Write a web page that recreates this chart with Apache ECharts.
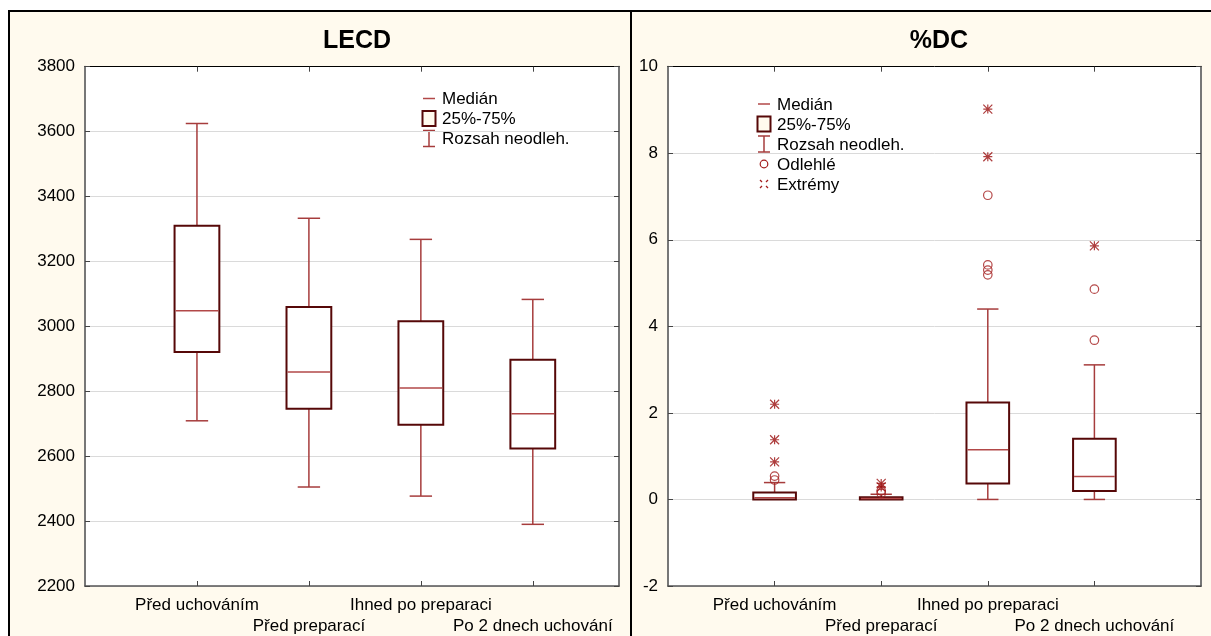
<!DOCTYPE html>
<html><head><meta charset="utf-8">
<script src="https://cdn.jsdelivr.net/npm/echarts@6/dist/echarts.min.js"></script>
<style>html,body{margin:0;padding:0;background:#fff}#c{width:1211px;height:636px}</style>
</head><body><div id="c"></div>
<script>
// ---- data ----
const categories = ['Před uchováním', 'Před preparací', 'Ihned po preparaci', 'Po 2 dnech uchování'];
const catPositions = [1, 2, 3, 4];
const rowOnePositions = [1, 3];
const rowTwoPositions = [2, 4];

const lecdMin    = [2709, 2505, 2477, 2390];
const lecdQ1     = [2921, 2746, 2697, 2624];
const lecdMedian = [3048, 2859, 2810, 2731];
const lecdQ3     = [3310, 3060, 3016, 2897];
const lecdMax    = [3625, 3333, 3268, 3083];

const dcMin    = [0, 0, 0, 0];
const dcQ1     = [0, 0, 0.37, 0.195];
const dcMedian = [0.04, 0.02, 1.15, 0.53];
const dcQ3     = [0.16, 0.05, 2.24, 1.40];
const dcMax    = [0.39, 0.12, 4.40, 3.11];
const dcOutliers = [[1, 0.45], [1, 0.54], [2, 0.14], [2, 0.20], [3, 5.19], [3, 5.30], [3, 5.42], [3, 7.03], [4, 3.68], [4, 4.86]];
const dcExtremes = [[1, 0.87], [1, 1.38], [1, 2.20], [2, 0.29], [2, 0.37], [3, 7.92], [3, 9.02], [4, 5.86]];

const lecdTicks = [2200, 3800, 200];
const dcTicks = [-2, 10, 2];

// ---- styles ----
const FONT = 'Liberation Sans, Arial, sans-serif';
const BOX_C = '#560808';
const WHISK_C = '#A63C3C';
const MED_C = '#B24848';
const OUT_C = '#A31C1C';
const BG = '#FFFAEE';

function boxRows(mn, q1, md, q3, mx) {
  return catPositions.map((x, i) => [x, mn[i], q1[i], md[i], q3[i], mx[i]]);
}

function renderBox(params, api) {
  const x = api.value(0);
  const mn = api.value(1), q1 = api.value(2), md = api.value(3), q3 = api.value(4), mx = api.value(5);
  const bw = api.size([0.4, 0])[0];
  const cw = api.size([0.2, 0])[0];
  const pMin = api.coord([x, mn]), pQ1 = api.coord([x, q1]), pMd = api.coord([x, md]);
  const pQ3 = api.coord([x, q3]), pMax = api.coord([x, mx]);
  const cx = pMin[0];
  const ls = { stroke: WHISK_C, lineWidth: 1.5 };
  const children = [];
  children.push({ type: 'line', shape: { x1: cx, y1: pQ3[1], x2: cx, y2: pMax[1] }, style: ls });
  children.push({ type: 'line', shape: { x1: cx - cw / 2, y1: pMax[1], x2: cx + cw / 2, y2: pMax[1] }, style: ls });
  if (mn < q1) {
    children.push({ type: 'line', shape: { x1: cx, y1: pQ1[1], x2: cx, y2: pMin[1] }, style: ls });
    children.push({ type: 'line', shape: { x1: cx - cw / 2, y1: pMin[1], x2: cx + cw / 2, y2: pMin[1] }, style: ls });
  }
  children.push({ type: 'rect', shape: { x: cx - bw / 2, y: pQ3[1], width: bw, height: pQ1[1] - pQ3[1] },
    style: { fill: '#fff', stroke: BOX_C, lineWidth: 2 } });
  children.push({ type: 'line', shape: { x1: cx - bw / 2 + 1, y1: pMd[1], x2: cx + bw / 2 - 1, y2: pMd[1] },
    style: { stroke: MED_C, lineWidth: 1.5 } });
  return { type: 'group', children };
}

function xLabel(v) {
  const i = Math.round(v) - 1;
  return (i >= 0 && i < categories.length) ? categories[i] : '';
}

function xAxes(gi, max) {
  const base = { gridIndex: gi, type: 'value', min: 0, max: max, splitLine: { show: false } };
  return [
    Object.assign({}, base, { position: 'bottom',
      axisLine: { onZero: false, lineStyle: { color: '#555', width: 1.5 } },
      axisTick: { inside: true, length: 5, customValues: catPositions, lineStyle: { color: '#444' } },
      axisLabel: { customValues: rowOnePositions, formatter: xLabel, margin: 11, fontSize: 17,
        color: '#000', fontFamily: FONT, hideOverlap: false } }),
    Object.assign({}, base, { position: 'bottom', offset: 20.5,
      axisLine: { show: false, onZero: false }, axisTick: { show: false },
      axisLabel: { customValues: rowTwoPositions, formatter: xLabel, margin: 11, fontSize: 17,
        color: '#000', fontFamily: FONT, hideOverlap: false } }),
    Object.assign({}, base, { position: 'top',
      axisLine: { onZero: false, lineStyle: { color: '#000', width: 1 } },
      axisTick: { inside: true, length: 5, customValues: catPositions, lineStyle: { color: '#444' } },
      axisLabel: { show: false } })
  ];
}
function yAxes(gi, t) {
  return [
    { gridIndex: gi, type: 'value', min: t[0], max: t[1], interval: t[2], position: 'left',
      axisLine: { show: true, onZero: false, lineStyle: { color: '#777', width: 2 } },
      axisTick: { show: true, inside: true, length: 5, lineStyle: { color: '#444' } },
      axisLabel: { margin: 10, fontSize: 17, color: '#000', fontFamily: FONT, formatter: v => String(v) },
      splitLine: { show: true, lineStyle: { color: '#DADADA', width: 1 } } },
    { gridIndex: gi, type: 'value', min: t[0], max: t[1], interval: t[2], position: 'right',
      axisLine: { show: true, onZero: false, lineStyle: { color: '#777', width: 2 } },
      axisTick: { show: true, inside: true, length: 5, lineStyle: { color: '#444' } },
      axisLabel: { show: false }, splitLine: { show: false } }
  ];
}

function legend(x, y0, items) {
  const els = [];
  const gap = 20;
  items.forEach((it, k) => {
    const y = y0 + k * gap;
    if (it === 'med') {
      els.push({ type: 'line', shape: { x1: x - 6, y1: y, x2: x + 6, y2: y }, style: { stroke: MED_C, lineWidth: 1.5 } });
    } else if (it === 'box') {
      els.push({ type: 'rect', shape: { x: x - 6.5, y: y - 7.5, width: 13, height: 15 }, style: { fill: BG, stroke: BOX_C, lineWidth: 2 } });
    } else if (it === 'whisk') {
      els.push({ type: 'line', shape: { x1: x, y1: y - 8, x2: x, y2: y + 8 }, style: { stroke: WHISK_C, lineWidth: 1.5 } });
      els.push({ type: 'line', shape: { x1: x - 6, y1: y - 8, x2: x + 6, y2: y - 8 }, style: { stroke: WHISK_C, lineWidth: 1.5 } });
      els.push({ type: 'line', shape: { x1: x - 6, y1: y + 8, x2: x + 6, y2: y + 8 }, style: { stroke: WHISK_C, lineWidth: 1.5 } });
    } else if (it === 'out') {
      els.push({ type: 'circle', shape: { cx: x, cy: y, r: 3.8 }, style: { fill: 'none', stroke: OUT_C, lineWidth: 1.2 } });
    } else if (it === 'ext') {
      [[-4, -4, -2, -2], [4, -4, 2, -2], [-4, 4, -2, 2], [4, 4, 2, 2]].forEach(s => {
        els.push({ type: 'line', shape: { x1: x + s[0], y1: y + s[1], x2: x + s[2], y2: y + s[3] }, style: { stroke: OUT_C, lineWidth: 1.2 } });
      });
    }
  });
  return els;
}
function legendTexts(x, y0, labels) {
  return labels.map((t, k) => ({ type: 'text', x: x, y: y0 + k * 20 + 1,
    style: { text: t, fontSize: 17, fontFamily: FONT, fill: '#000', textVerticalAlign: 'middle' } }));
}

const chart = echarts.init(document.getElementById('c'));
chart.setOption({
  animation: false,
  backgroundColor: BG,
  title: [
    { text: 'LECD', left: 352, top: 24, textAlign: 'center',
      textStyle: { fontSize: 25, fontWeight: 'bold', color: '#000', fontFamily: FONT } },
    { text: '%DC', left: 934, top: 24, textAlign: 'center',
      textStyle: { fontSize: 25, fontWeight: 'bold', color: '#000', fontFamily: FONT } }
  ],
  grid: [
    { left: 85, top: 66.7, width: 534, height: 519.3, show: true, backgroundColor: '#fff', borderWidth: 0 },
    { left: 668, top: 66.7, width: 533, height: 519.3, show: true, backgroundColor: '#fff', borderWidth: 0 }
  ],
  xAxis: [...xAxes(0, 4.77), ...xAxes(1, 5)],
  yAxis: [...yAxes(0, lecdTicks), ...yAxes(1, dcTicks)],
  series: [
    { type: 'custom', name: 'LECD', xAxisIndex: 0, yAxisIndex: 0, renderItem: renderBox,
      data: boxRows(lecdMin, lecdQ1, lecdMedian, lecdQ3, lecdMax), encode: { x: 0, y: [1, 2, 3, 4, 5] } },
    { type: 'custom', name: '%DC', xAxisIndex: 3, yAxisIndex: 2, renderItem: renderBox,
      data: boxRows(dcMin, dcQ1, dcMedian, dcQ3, dcMax), encode: { x: 0, y: [1, 2, 3, 4, 5] } },
    { type: 'scatter', name: 'Odlehlé', xAxisIndex: 3, yAxisIndex: 2, data: dcOutliers,
      symbol: 'circle', symbolSize: 8.5,
      itemStyle: { color: 'transparent', borderColor: OUT_C, borderWidth: 1.2 } },
    { type: 'scatter', name: 'Extrémy', xAxisIndex: 3, yAxisIndex: 2, data: dcExtremes,
      symbol: 'path://M0,0L10,10M10,0L0,10M5,0L5,10M0,5L10,5', symbolSize: 9,
      itemStyle: { color: 'transparent', borderColor: '#9A0E0E', borderWidth: 1.2 } }
  ],
  graphic: [
    { type: 'rect', shape: { x: 0, y: 0, width: 1211, height: 10 }, style: { fill: '#fff' }, silent: true },
    { type: 'rect', shape: { x: 0, y: 0, width: 8, height: 636 }, style: { fill: '#fff' }, silent: true },
    { type: 'polyline', shape: { points: [[9, 640], [9, 11], [1215, 11]] }, style: { fill: 'none', stroke: '#000', lineWidth: 2 }, z: 100 },
    { type: 'line', shape: { x1: 631, y1: 10, x2: 631, y2: 636 }, style: { stroke: '#000', lineWidth: 2 }, z: 100 },
    ...legend(429, 98.5, ['med', 'box', 'whisk']),
    ...legendTexts(442, 98.5, ['Medián', '25%-75%', 'Rozsah neodleh.']),
    ...legend(764, 104, ['med', 'box', 'whisk', 'out', 'ext']),
    ...legendTexts(777, 104, ['Medián', '25%-75%', 'Rozsah neodleh.', 'Odlehlé', 'Extrémy'])
  ]
});
</script></body></html>
